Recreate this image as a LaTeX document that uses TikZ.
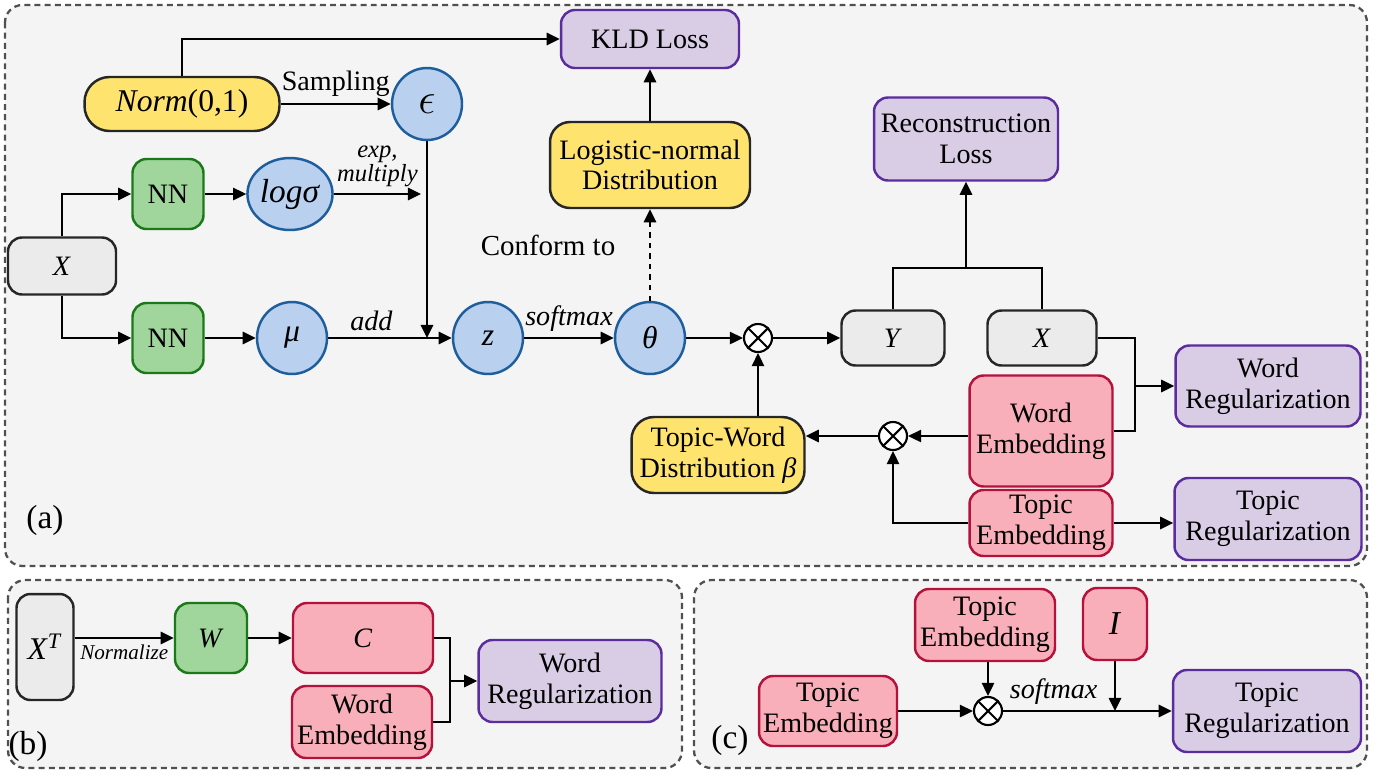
\documentclass[tikz,border=0pt]{standalone}
\usepackage{fontspec}
\setmainfont{Liberation Serif}
\usetikzlibrary{arrows.meta,shapes.geometric}

\definecolor{panelbg}{HTML}{F4F4F4}
\definecolor{panelline}{HTML}{505050}
\definecolor{grayfill}{HTML}{EBEBEB}
\definecolor{greenfill}{HTML}{A0D69B}
\definecolor{greenline}{HTML}{1A7A1A}
\definecolor{bluefill}{HTML}{B9D1EF}
\definecolor{blueline}{HTML}{1F5E9C}
\definecolor{yellowfill}{HTML}{FFE36F}
\definecolor{redfill}{HTML}{F8AFBA}
\definecolor{redline}{HTML}{B5123B}
\definecolor{purplefill}{HTML}{D9CCE5}
\definecolor{purpleline}{HTML}{5B2C9E}

\tikzset{
  basebox/.style={draw, rounded corners=0.28cm, line width=1.4pt, align=center,
    inner sep=1pt, font=\fontsize{16}{17.5}\selectfont},
  graybox/.style={basebox, fill=grayfill, draw=black!85},
  greenbox/.style={basebox, fill=greenfill, draw=greenline},
  yellowbox/.style={basebox, fill=yellowfill, draw=black!85},
  redbox/.style={basebox, fill=redfill, draw=redline},
  purplebox/.style={basebox, fill=purplefill, draw=purpleline},
  bluecirc/.style={ellipse, draw=blueline, fill=bluefill, line width=1.4pt,
    minimum width=1.4cm, minimum height=1.44cm, inner sep=0pt,
    font=\fontsize{18}{20}\selectfont},
  mul/.style={circle, draw, line width=1.2pt, fill=white, minimum size=0.56cm,
    inner sep=0pt, path picture={
      \draw[line width=1.2pt] (path picture bounding box.north west) -- (path picture bounding box.south east)
        (path picture bounding box.south west) -- (path picture bounding box.north east);}},
  arr/.style={line width=1.25pt, -{Triangle[length=7.5pt,width=7pt]}},
  link/.style={line width=1.25pt},
  panel/.style={draw=panelline, fill=panelbg, dash pattern=on 3.4pt off 2.4pt,
    line width=1.3pt, rounded corners=0.35cm},
  lbl/.style={font=\fontsize{16}{18}\selectfont},
  ilbl/.style={font=\fontsize{16}{18}\selectfont\itshape},
}

\begin{document}
\begin{tikzpicture}[x=0.02cm, y=-0.02cm]
  \useasboundingbox (0,0) rectangle (1387,775);

  % Panels
  \draw[panel] (5,5) rectangle (1367,566);
  \draw[panel] (8,580) rectangle (682,768);
  \draw[panel] (694,580) rectangle (1367,768);

  % (a) Encoder
  \node[purplebox, minimum width=3.56cm, minimum height=1.16cm] (kld) at (650,39) {KLD Loss};
  \node[yellowbox, rounded corners=0.5cm, minimum width=3.9cm, minimum height=1.08cm, font=\fontsize{18}{20}\selectfont] (norm) at (182,104) {\textit{Norm}(0,1)};
  \node[bluecirc, font=\fontsize{25}{26}\selectfont] (eps) at (427,104) {$\epsilon$};
  \node[yellowbox, rounded corners=0.4cm, minimum width=4cm, minimum height=1.72cm] (logn) at (650,165) {Logistic-normal\\Distribution};
  \node[purplebox, minimum width=3.68cm, minimum height=1.66cm] (recon) at (966,139) {Reconstruction\\Loss};
  \node[greenbox, minimum width=1.42cm, minimum height=1.4cm] (nna) at (168,194) {NN};
  \node[bluecirc, font=\fontsize{19}{20}\selectfont] (ls) at (290,194) {\textit{logσ}};
  \node[graybox, minimum width=2.16cm, minimum height=1.14cm] (x) at (62,266) {\textit{X}};
  \node[greenbox, minimum width=1.42cm, minimum height=1.4cm] (nnb) at (168,338) {NN};
  \node[bluecirc] (mu) at (292,338) {\textit{μ}};
  \node[bluecirc] (z) at (488,338) {\textit{z}};
  \node[bluecirc] (theta) at (650,338) {\textit{θ}};
  \node[lbl, font=\fontsize{16.5}{18}\selectfont] (conf) at (548,245) {Conform to};
  \node[lbl, font=\fontsize{19}{21}\selectfont] (la) at (45,520) {(a)};

  % (a) Decoder
  \node[mul] (oa) at (758,338) {};
  \node[graybox, minimum width=2.06cm, minimum height=1.1cm] (y) at (893,338) {\textit{Y}};
  \node[graybox, minimum width=2.18cm, minimum height=1.1cm] (xr) at (1042,338) {\textit{X}};
  \node[purplebox, minimum width=3.7cm, minimum height=1.62cm] (wr) at (1268,386) {Word\\Regularization};
  \node[redbox, minimum width=2.86cm, minimum height=2.22cm] (we) at (1041,431) {Word\\Embedding};
  \node[mul] (ob) at (893,436) {};
  \node[yellowbox, rounded corners=0.45cm, minimum width=3.46cm, minimum height=1.52cm] (tw) at (718,455) {Topic-Word\\Distribution \textit{β}};
  \node[redbox, minimum width=2.86cm, minimum height=1.32cm] (te) at (1041,523) {Topic\\Embedding};
  \node[purplebox, minimum width=3.74cm, minimum height=1.64cm] (tr) at (1268,519) {Topic\\Regularization};
  \coordinate (rc) at (966,268);
  \coordinate (wj) at (1135,386);

  \draw[arr] (norm.north) |- (kld.west);
  \draw[arr] (norm.east) -- node[lbl, above] {Sampling} (eps.west);
  \draw[arr] (eps.south) -- (eps.south |- mu);
  \draw[arr] (ls.east) -- ([xshift=-0.12cm]ls.east -| eps.south)
    node[midway, above, align=center, font=\fontsize{14}{14}\selectfont\itshape] {exp,\\multiply};
  \draw[arr] (x.north) |- (nna.west);
  \draw[arr] (x.south) |- (nnb.west);
  \draw[arr] (nna) -- (ls);
  \draw[arr] (nnb) -- (mu);
  \draw[arr] (mu) -- node[ilbl, above, pos=0.35] {add} (z);
  \draw[arr] (z) -- node[ilbl, above] {softmax} (theta);
  \draw[arr, dashed] (theta.north) -- (logn.south);
  \draw[arr] (logn.north) -- (kld.south);
  \draw[arr] (theta) -- (oa);
  \draw[arr] (oa) -- (y);
  \draw[link] (y.north) -- (y.north |- rc) -- (xr.north |- rc) -- (xr.north);
  \draw[arr] (rc) -- (recon.south);
  \draw[link] (xr.east) -| (wj) |- (we.east);
  \draw[arr] (wj) -- (wr.west);
  \draw[arr] (we.west |- ob) -- (ob);
  \draw[arr] (ob) -- (ob -| tw.east);
  \draw[arr] (te.west) -| (ob.south);
  \draw[arr] (oa |- tw.north) -- (oa.south);
  \draw[arr] (te.east) -- (te.east -| tr.west);

  % (b)
  \node[graybox, minimum width=1.14cm, minimum height=2.12cm, font=\fontsize{18}{20}\selectfont] (xt) at (45,647) {\textit{X}\textsuperscript{\textit{T}}};
  \node[greenbox, minimum width=1.44cm, minimum height=1.4cm] (w) at (211,638) {\textit{W}};
  \node[redbox, minimum width=2.8cm, minimum height=1.4cm] (c) at (363,638) {\textit{C}};
  \node[redbox, minimum width=2.8cm, minimum height=1.44cm] (web) at (362,722) {Word\\Embedding};
  \node[purplebox, minimum width=3.66cm, minimum height=1.64cm] (wrb) at (570,681) {Word\\Regularization};
  \node[lbl, font=\fontsize{19}{21}\selectfont] (lb) at (28,746) {(b)};
  \coordinate (bj) at (450,681);

  \draw[arr] (xt.east |- w) -- node[below, font=\fontsize{12}{12}\selectfont\itshape] {Normalize} (w.west);
  \draw[arr] (w) -- (c);
  \draw[link] (c.east) -| (bj) |- (web.east);
  \draw[arr] (bj) -- (wrb.west);

  % (c)
  \node[redbox, minimum width=2.8cm, minimum height=1.44cm] (tet) at (985,625) {Topic\\Embedding};
  \node[redbox, minimum width=1.28cm, minimum height=1.44cm, font=\fontsize{19}{20}\selectfont] (id) at (1115,624) {\textit{I}};
  \node[redbox, minimum width=2.76cm, minimum height=1.4cm] (tel) at (828,711) {Topic\\Embedding};
  \node[mul] (oc) at (988,711) {};
  \node[purplebox, minimum width=3.76cm, minimum height=1.64cm] (trc) at (1267,711) {Topic\\Regularization};
  \node[lbl, font=\fontsize{19}{21}\selectfont] (lc) at (730,740) {(c)};

  \draw[arr] (tel.east) -- (oc);
  \draw[arr] (oc |- tet.south) -- (oc.north);
  \draw[arr] (oc) -- node[ilbl, above, pos=0.3] {softmax} (oc -| trc.west);
  \draw[arr] (id.south) -- (id.south |- oc);
\end{tikzpicture}
\end{document}
